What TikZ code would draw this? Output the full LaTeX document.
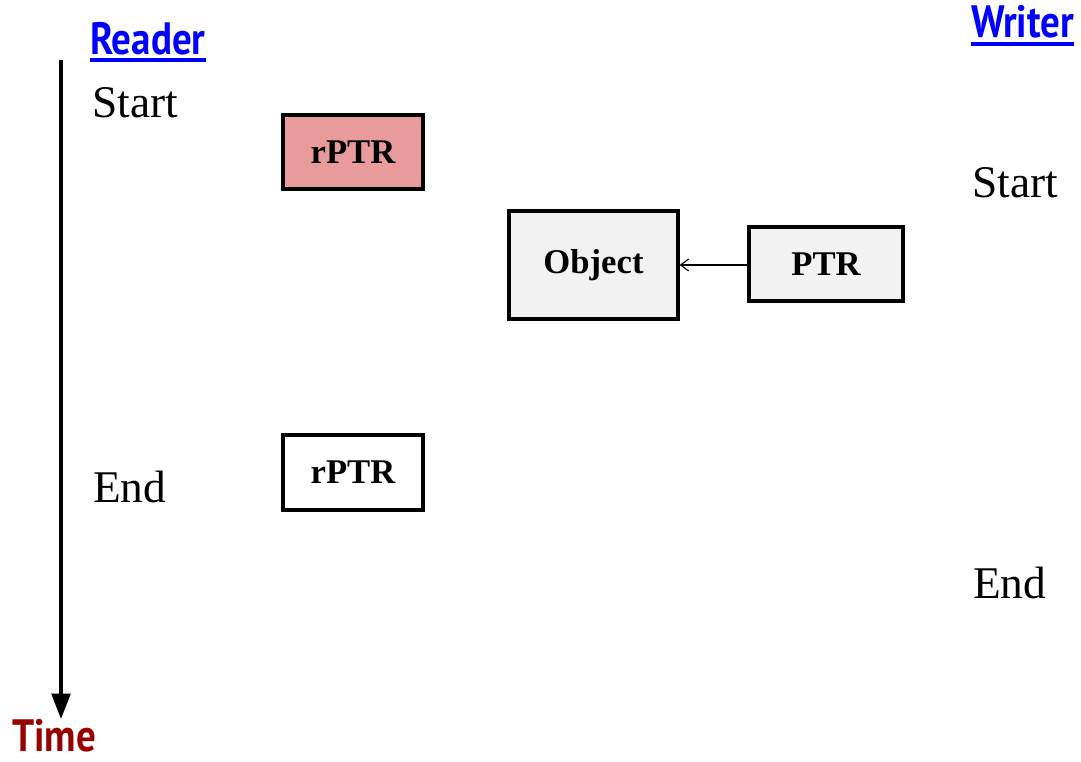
\documentclass[tikz,border=0pt]{standalone}
\usepackage{fontspec}
\setmainfont{Liberation Serif}
\newfontfamily\headfont[FakeStretch=0.86]{PT Sans}
\usetikzlibrary{arrows.meta}
\definecolor{rptrred}{HTML}{E99A9A}
\definecolor{boxgray}{HTML}{F2F2F2}
\definecolor{timered}{HTML}{990000}
\definecolor{linkblue}{HTML}{0000FF}
\tikzset{
  ptrbox/.style={draw=black, line width=2.6pt, inner sep=0pt, font=\fontsize{26}{28}\selectfont\bfseries},
  lbl/.style={font=\fontsize{34}{36}\selectfont, anchor=base west, inner sep=0pt},
  head/.style={font=\headfont\fontsize{34}{36}\selectfont\bfseries, anchor=base west, inner sep=0pt},
  uline/.style={draw=linkblue, line width=3pt},
}
\begin{document}
\begin{tikzpicture}[x=0.75pt,y=-0.75pt]
\useasboundingbox (0,0) rectangle (1081,762);
% headings
\node[head, text=linkblue] (reader) at (90,55) {Reader};
\draw[uline] ([yshift=-4pt]reader.base west) -- ([yshift=-4pt]reader.base east);
\node[head, text=linkblue] (writer) at (971,38) {Writer};
\draw[uline] ([yshift=-4.5pt]writer.base west) -- ([yshift=-4.5pt]writer.base east);
\node[head, text=timered, text depth=0pt] (time) at (12,751) {Time};
% time axis
\coordinate (ttop) at (61,60);
\coordinate (tbot) at (61,719);
\draw[line width=2.5pt, -{Triangle[length=19pt,width=14pt]}] (ttop) -- (tbot);
% labels
\node[lbl] (rstart) at (92,118) {Start};
\node[lbl] (rend) at (93,502) {End};
\node[lbl] (wstart) at (972,198) {Start};
\node[lbl] (wend) at (973,598) {End};
% boxes
\node[ptrbox, fill=rptrred, minimum width=105pt, minimum height=55.5pt] (rptr1) at (353,152) {rPTR};
\node[ptrbox, fill=white, minimum width=105pt, minimum height=56pt] (rptr2) at (353,472.5) {rPTR};
\node[ptrbox, fill=boxgray, minimum width=126.75pt, minimum height=81pt] (obj) at (593.5,265) {Object};
\node[ptrbox, fill=boxgray, minimum width=115.5pt, minimum height=55.5pt] (ptr) at (826,264) {PTR};
\draw[line width=0.8pt, -{Straight Barb[length=6pt,width=9pt]}] (ptr.west |- 0,265) -- (obj.east |- 0,265);
\end{tikzpicture}
\end{document}
